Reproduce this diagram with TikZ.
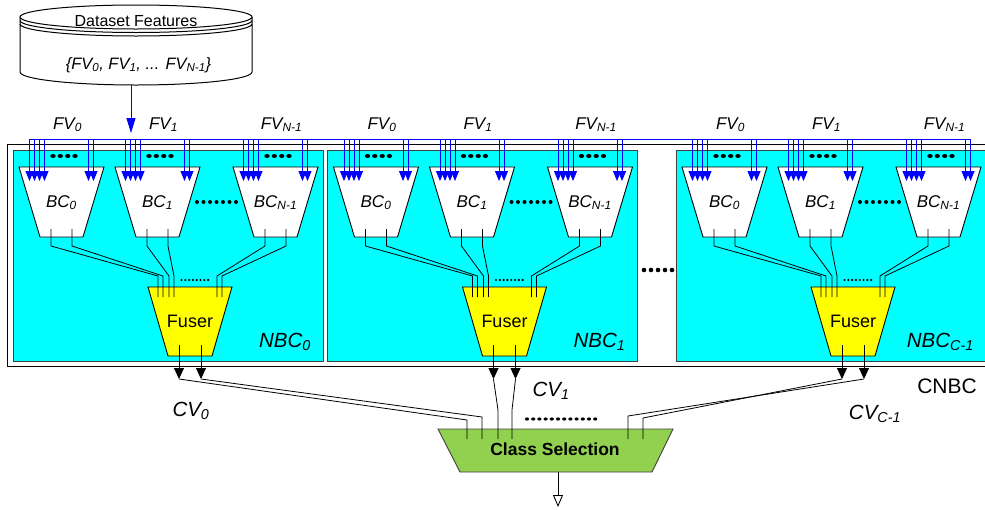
\documentclass[tikz,border=0pt]{standalone}
\usepackage{fontspec}
\setmainfont{Liberation Sans}
\usetikzlibrary{arrows.meta}
\definecolor{csgreen}{RGB}{146,208,80}
\definecolor{nbccyan}{RGB}{0,255,255}
\definecolor{fuseryellow}{RGB}{255,255,0}
\definecolor{busblue}{RGB}{0,0,255}

\begin{document}
\begin{tikzpicture}[x=1pt,y=-1pt]
\tikzset{
  outerbox/.style={draw,fill=white,line width=0.9pt,inner sep=0pt,outer sep=0pt,minimum width=986pt,minimum height=222pt},
  nbcbox/.style={draw=black!75,fill=nbccyan,line width=0.9pt,inner sep=0pt,outer sep=0pt,minimum width=310pt,minimum height=211pt},
  dbbox/.style={draw,fill=white,line width=1pt},
  bcbox/.style={draw,fill=white,line width=0.9pt},
  fuserbox/.style={draw,fill=fuseryellow,line width=0.9pt},
  csbox/.style={draw=black!75,fill=csgreen,line width=0.9pt},
  bus/.style={busblue,line width=0.8pt},
  fvin/.style={busblue,line width=0.8pt,-{Triangle[length=10pt,width=8pt]}},
  dbarrow/.style={busblue,line width=0.8pt,-{Triangle[length=15pt,width=9pt]}},
  wire/.style={line width=0.8pt},
  cvout/.style={line width=0.9pt,-{Triangle[length=11pt,width=10pt]}},
  resarrow/.style={line width=0.9pt,-{Triangle[open,length=12pt,width=10pt]}},
  lbl/.style={inner sep=0pt,anchor=base,font=\fontsize{17pt}{20pt}\selectfont\itshape},
  biglbl/.style={inner sep=0pt,anchor=base,font=\fontsize{20.5pt}{24pt}\selectfont\itshape},
  txt/.style={inner sep=0pt,anchor=base,font=\fontsize{16pt}{19pt}\selectfont},
  sepdot/.style={fill=black}
}
\useasboundingbox (0,0) rectangle (985,509);

% dataset store
\draw[dbbox] (20,17) -- (20,72) arc[start angle=180,end angle=0,x radius=116,y radius=13] -- (252,17);
\draw[dbbox] (136,17) ellipse[x radius=116,y radius=12];
\draw[line width=1pt] (20,20.5) arc[start angle=180,end angle=0,x radius=116,y radius=12];
\draw[line width=1pt] (20,24) arc[start angle=180,end angle=0,x radius=116,y radius=12];
\node[txt] (dbtitle) at (136,26) {Dataset Features};
\node[txt,font=\fontsize{16.5pt}{19pt}\selectfont\itshape] (dbset) at (138.5,69)
  {\{FV\textsubscript{0}, FV\textsubscript{1}, ... FV\textsubscript{N-1}\}};
\coordinate (db-out) at (131,85);
\coordinate (bus-in) at (131,133);
\draw[dbarrow] (db-out) -- (bus-in);

% CNBC
\node[outerbox] (cnbc) at (500,255) {};
\node[txt,font=\fontsize{21pt}{24pt}\selectfont] (cnbclbl) at (947,393) {CNBC};
\coordinate (bus-w) at (29.5,139);
\coordinate (bus-e) at (970.5,139);

\foreach \blk/\ox/\nsub in {0/0/0,1/314.5/1,2/663/C-1}{
  \begin{scope}[xshift=\ox]
    \node[nbcbox] (nbc\blk) at (168,255.5) {};
    \node[biglbl,anchor=base east] (nbclbl\blk) at (311,347) {NBC\textsubscript{\nsub}};
    % fuser
    \draw[fuserbox] (148,287) -- (232,287) -- (212,356) -- (168,356) -- cycle;
    \node[txt,font=\fontsize{18pt}{21pt}\selectfont] (fuser\blk) at (190,327) {Fuser};
    \foreach \fx [count=\k] in {158,163,169,174,217,222}
      \coordinate (fin-\blk-\k) at (\fx,297);
    \foreach \k in {0,...,7}
      \fill[sepdot] (181.5+3.8*\k,280) circle[radius=1.2];
    \coordinate (fo-\blk-a) at (179,345);
    \coordinate (fo-\blk-b) at (201,345);
    \coordinate (cv-\blk-a) at (179,379);
    \coordinate (cv-\blk-b) at (201,379);
    % base classifiers
    \foreach \bc/\cx/\csub in {0/61.5/0,1/157.5/1,2/275.5/N-1}{
      \draw[bcbox] (\cx-42.5,167) -- (\cx+42.5,167) -- (\cx+21.5,237) -- (\cx-21.5,237) -- cycle;
      \node[lbl] (bc-\blk-\bc) at (\cx,207) {BC\textsubscript{\csub}};
      \node[lbl] (fv-\blk-\bc) at (\cx+6,129) {FV\textsubscript{\csub}};
      \foreach \dx [count=\k] in {-32,-27,-22,-17,27,32}
        \coordinate (in-\blk-\bc-\k) at (\cx+\dx,181);
      \foreach \dx in {-11,-3.7,3.7,11}
        \fill[sepdot] (\cx+2.5+\dx,156) ellipse[x radius=2.7,y radius=2];
      \coordinate (bco-\blk-\bc-a) at (\cx-10.5,229);
      \coordinate (bco-\blk-\bc-b) at (\cx+10.5,229);
    }
    \foreach \k in {0,...,6}
      \fill[sepdot] (197+6.5*\k,202) circle[radius=2];
  \end{scope}
  \foreach \bc in {0,1,2}
    \foreach \k in {1,...,6}
      \draw[fvin] (in-\blk-\bc-\k |- bus-w) -- (in-\blk-\bc-\k);
  \draw[wire] (bco-\blk-0-a) -- ++(0,17) -- ([yshift=21pt]fin-\blk-1) -- (fin-\blk-1);
  \draw[wire] (bco-\blk-0-b) -- ++(0,17) -- ([yshift=21pt]fin-\blk-2) -- (fin-\blk-2);
  \draw[wire] (bco-\blk-1-a) -- ++(0,17) -- ([yshift=21pt]fin-\blk-3) -- (fin-\blk-3);
  \draw[wire] (bco-\blk-1-b) -- ++(0,17) -- ([yshift=21pt]fin-\blk-4) -- (fin-\blk-4);
  \draw[wire] (bco-\blk-2-a) -- ++(0,17) -- ([yshift=21pt]fin-\blk-5) -- (fin-\blk-5);
  \draw[wire] (bco-\blk-2-b) -- ++(0,17) -- ([yshift=21pt]fin-\blk-6) -- (fin-\blk-6);
  \draw[cvout] (fo-\blk-a) -- (cv-\blk-a);
  \draw[cvout] (fo-\blk-b) -- (cv-\blk-b);
}
\draw[bus] (bus-w) -- (bus-e);
\foreach \k in {0,...,4}
  \fill[sepdot] (644+7*\k,270) circle[radius=2.3];

% class selection
\draw[csbox] (438,429) -- (673,429) -- (652,472) -- (460,472) -- cycle;
\node[txt,font=\fontsize{17.5pt}{20pt}\selectfont\bfseries] (cs) at (555,455) {Class Selection};
\foreach \px [count=\k] in {467,482,498,512,628,643}
  \coordinate (cs-\k) at (\px,439);
\draw[wire] (cv-0-a) -- ([yshift=19pt]cs-1) -- (cs-1);
\draw[wire] (cv-0-b) -- ([yshift=22pt]cs-2) -- (cs-2);
\draw[wire] (cv-1-a) -- ([yshift=29pt]cs-3) -- (cs-3);
\draw[wire] (cv-1-b) -- ([yshift=29pt]cs-4) -- (cs-4);
\draw[wire] (cv-2-b) -- ([yshift=23pt]cs-5) -- (cs-5);
\draw[wire] (cv-2-a) -- ([yshift=21pt]cs-6) -- (cs-6);
\foreach \k in {0,...,11}
  \fill[sepdot] (527+6.2*\k,419) ellipse[x radius=2.1,y radius=1.6];
\node[biglbl] (cvlbl0) at (191,416) {CV\textsubscript{0}};
\node[biglbl] (cvlbl1) at (551,396) {CV\textsubscript{1}};
\node[biglbl] (cvlbl2) at (875,419) {CV\textsubscript{C-1}};
\coordinate (cs-out) at (558,472);
\coordinate (result) at (558,507);
\draw[resarrow] (cs-out) -- (result);
\end{tikzpicture}
\end{document}
